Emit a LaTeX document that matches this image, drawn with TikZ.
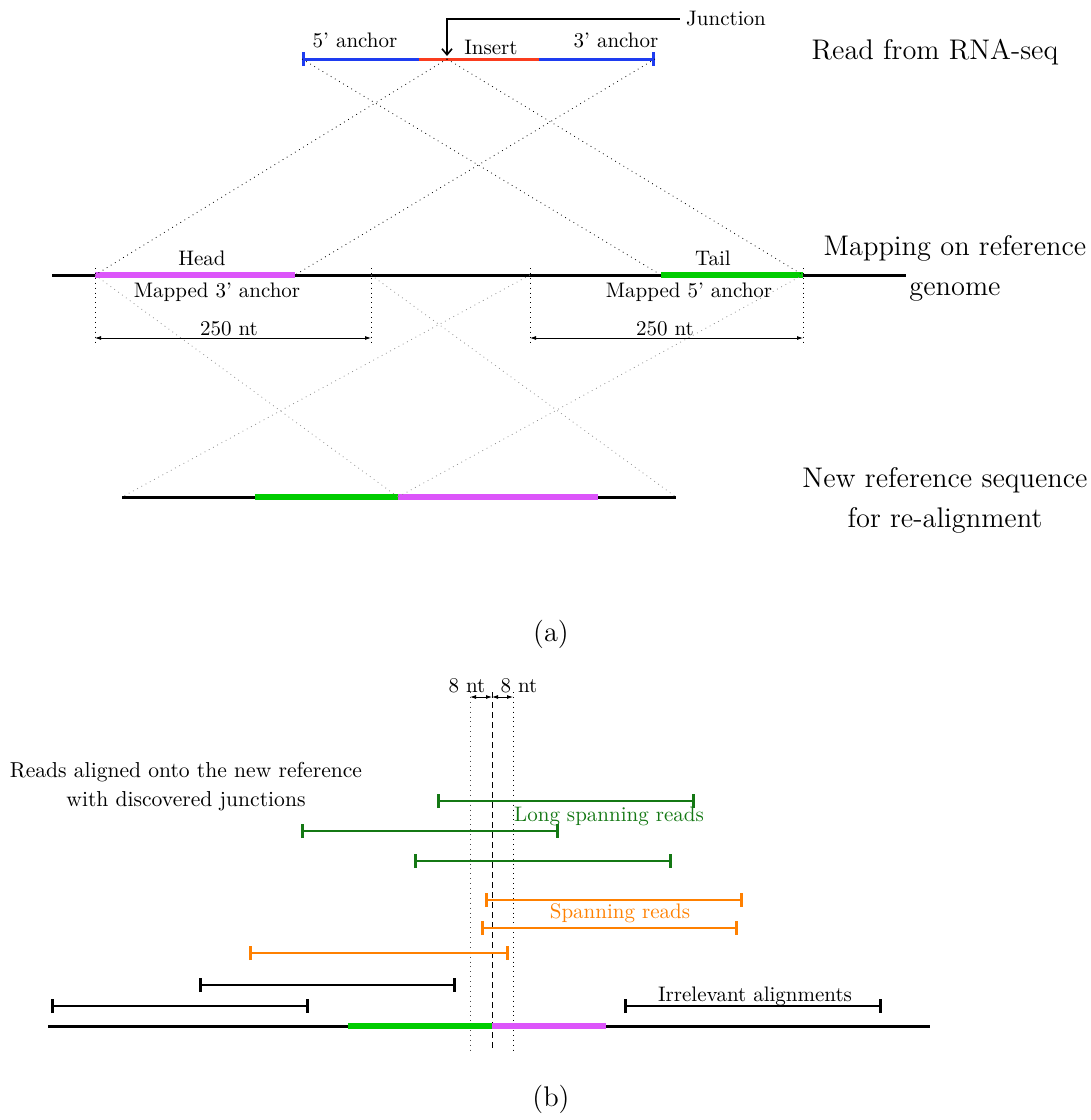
\documentclass[tikz,border=0pt]{standalone}
\usetikzlibrary{arrows.meta}
\definecolor{anchorblue}{RGB}{30,60,240}
\definecolor{insertred}{RGB}{250,60,30}
\definecolor{headmag}{RGB}{220,85,250}
\definecolor{tailgreen}{RGB}{0,204,0}
\definecolor{longgreen}{RGB}{20,120,20}
\definecolor{spanorange}{RGB}{255,128,0}
\tikzset{
  lbl/.style={inner sep=0pt, font=\fontsize{10.5}{12.5}\selectfont},
  biglbl/.style={inner sep=0pt, align=center, font=\fontsize{14.2}{20}\selectfont},
  backbone/.style={line width=1.5pt, black},
  seg/.style={line width=2.6pt},
  readbar/.style={line width=1.1pt, {Bar[width=7pt,line width=1.3pt]}-{Bar[width=7pt,line width=1.3pt]}},
  dimarrow/.style={line width=0.4pt, {Latex[length=3pt,width=2pt]}-{Latex[length=3pt,width=2pt]}},
  mapline/.style={dotted, line width=0.4pt},
  softline/.style={dotted, line width=0.4pt, black!45},
  guide/.style={dotted, line width=0.45pt},
}
\begin{document}
\begin{tikzpicture}[x=0.5pt,y=-0.5pt]
\useasboundingbox (0,0) rectangle (1091,1120);

% ---------- (a) read from RNA-seq ----------
\coordinate (r5) at (302,59);
\coordinate (ri1) at (419,59);
\coordinate (rj) at (447,59);
\coordinate (ri2) at (539,59);
\coordinate (r3) at (655,59);
\draw[anchorblue, line width=1.5pt, {Bar[width=7pt,line width=1.3pt]}-{Bar[width=7pt,line width=1.3pt]}] (r5) -- (r3);
\draw[insertred, line width=1.5pt] (ri1) -- (ri2);

\node[lbl] (l5) at (355,40) {5' anchor};
\node[lbl] (lins) at (491,47) {Insert};
\node[lbl] (l3) at (616,40) {3' anchor};
\node[lbl] (junc) at (726,19) {Junction};
\coordinate (jtip) at (447,56);
\draw[line width=0.8pt, -{Straight Barb[length=3pt,width=5pt]}] ([xshift=-3pt]junc.west) -| (jtip);
\node[biglbl] (tread) at (935,52) {Read from RNA-seq};

% ---------- mapping on the reference genome ----------
\coordinate (g0) at (52,275);
\coordinate (g1) at (906,275);
\coordinate (hL) at (95,275);
\coordinate (hR) at (295,275);
\coordinate (tL) at (661,275);
\coordinate (tR) at (803,275);
\coordinate (w1) at (371,275);
\coordinate (w2) at (530,275);
\draw[backbone] (g0) -- (g1);
\draw[seg, headmag] (hL) -- (hR);
\draw[seg, tailgreen] (tL) -- (tR);

\draw[mapline] (r5) -- (tL);
\draw[mapline] (rj) -- (tR);
\draw[mapline] (rj) -- (hL);
\draw[mapline] (r3) -- (hR);

\node[lbl] (lhead) at (202,258) {Head};
\node[lbl] (ltail) at (713,258) {Tail};
\node[lbl] (lm3) at (217,292) {Mapped 3' anchor};
\node[lbl] (lm5) at (689,292) {Mapped 5' anchor};
\node[biglbl] (tmap) at (955,268) {Mapping on reference\\genome};

% 250 nt windows
\foreach \c in {hL,w1,w2,tR}{
  \draw[guide] ([yshift=3.5pt]\c) -- ([yshift=-35pt]\c);
}
\coordinate (d1) at (95,338);
\coordinate (d2) at (371,338);
\coordinate (d3) at (530,338);
\coordinate (d4) at (803,338);
\draw[dimarrow] (d1) -- (d2);
\draw[dimarrow] (d3) -- (d4);
\node[lbl] (n250a) at (229,329) {250 nt};
\node[lbl] (n250b) at (665,329) {250 nt};

% ---------- new reference sequence ----------
\coordinate (n0) at (122,497);
\coordinate (nm) at (255,497);
\coordinate (nj) at (398,497);
\coordinate (nh) at (598,497);
\coordinate (n1) at (676,497);
\draw[backbone] (n0) -- (n1);
\draw[seg, tailgreen] (nm) -- (nj);
\draw[seg, headmag] (nj) -- (nh);

\draw[softline] (hL) -- (nj);
\draw[softline] (w1) -- (n1);
\draw[softline] (w2) -- (n0);
\draw[softline] (tR) -- (nj);

\node[biglbl] (tnew) at (945,500) {New reference sequence\\for re-alignment};
\node[biglbl] (capa) at (551,634) {(a)};

% ---------- (b) reads on the new reference ----------
\coordinate (v1a) at (470,692); \coordinate (v1b) at (470,1050);
\coordinate (v2a) at (492,692); \coordinate (v2b) at (492,1050);
\coordinate (v3a) at (513,692); \coordinate (v3b) at (513,1050);
\draw[guide, black!70] (v1a) -- (v1b);
\draw[densely dashed, line width=0.45pt] (v2a) -- (v2b);
\draw[guide] (v3a) -- (v3b);
\coordinate (e1) at (470,697);
\coordinate (e2) at (492,697);
\coordinate (e3) at (513,697);
\draw[dimarrow] (e1) -- (e2);
\draw[dimarrow] (e2) -- (e3);
\node[lbl] (n8a) at (467,686) {8 nt};
\node[lbl] (n8b) at (519,686) {8 nt};

\node[lbl, align=center, font=\fontsize{10.8}{14.5}\selectfont] (treads) at (186,787) {Reads aligned onto the new reference\\with discovered junctions};

% long spanning reads
\coordinate (a1) at (437,801); \coordinate (a2) at (695,801);
\coordinate (b1) at (301,831); \coordinate (b2) at (559,831);
\coordinate (c1) at (414,861); \coordinate (c2) at (672,861);
\draw[readbar, longgreen] (a1) -- (a2);
\draw[readbar, longgreen] (b1) -- (b2);
\draw[readbar, longgreen] (c1) -- (c2);
\node[lbl, text=longgreen] (tlong) at (609,816) {Long spanning reads};

% spanning reads
\coordinate (s1) at (485,900); \coordinate (s2) at (743,900);
\coordinate (t1) at (481,928); \coordinate (t2) at (738,928);
\coordinate (u1) at (249,953); \coordinate (u2) at (509,953);
\draw[readbar, spanorange] (s1) -- (s2);
\draw[readbar, spanorange] (t1) -- (t2);
\draw[readbar, spanorange] (u1) -- (u2);
\node[lbl, text=spanorange] (tspan) at (620,913) {Spanning reads};

% irrelevant alignments
\coordinate (p1) at (199,985); \coordinate (p2) at (456,985);
\coordinate (q1) at (51,1006); \coordinate (q2) at (309,1006);
\coordinate (z1) at (624,1006); \coordinate (z2) at (882,1006);
\draw[readbar] (p1) -- (p2);
\draw[readbar] (q1) -- (q2);
\draw[readbar] (z1) -- (z2);
\node[lbl] (tirr) at (755,996) {Irrelevant alignments};

% reference backbone
\coordinate (b0) at (48,1026);
\coordinate (bm) at (348,1026);
\coordinate (bj) at (492,1026);
\coordinate (bh) at (606,1026);
\coordinate (bend) at (930,1026);
\draw[backbone] (b0) -- (bend);
\draw[seg, tailgreen] (bm) -- (bj);
\draw[seg, headmag] (bj) -- (bh);

\node[biglbl] (capb) at (551,1099) {(b)};
\end{tikzpicture}
\end{document}
